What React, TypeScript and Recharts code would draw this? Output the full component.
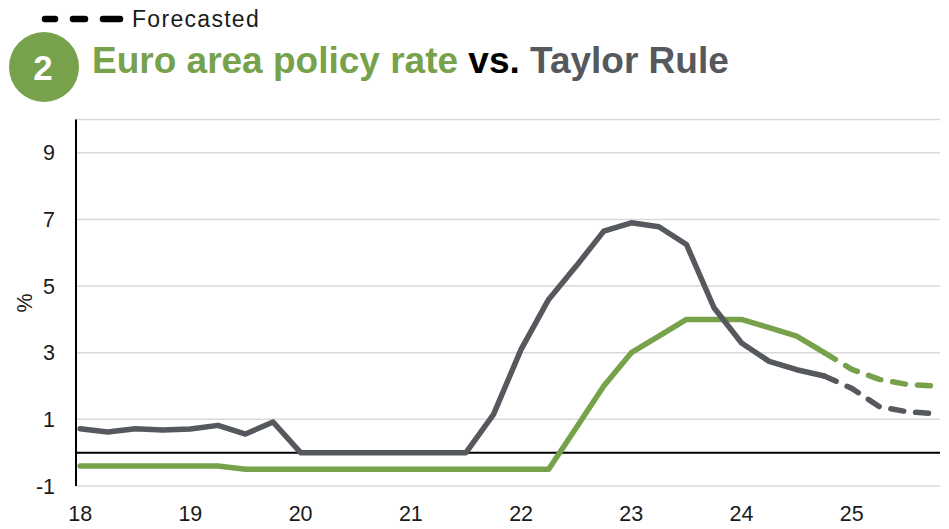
import { LineChart, Line, XAxis, YAxis, CartesianGrid, ReferenceLine } from 'recharts'

const GREEN = '#77A14A'
const GRAY = '#55585C'
const FONT = '"Liberation Sans", Arial, sans-serif'

// Quarterly observations, 2018 Q1 to 2025 Q4
const yearLabels = ['18', '19', '20', '21', '22', '23', '24', '25']

// Taylor Rule implied rate, %
const taylorRule = [
  0.72, 0.62, 0.72, 0.68, 0.71, 0.82, 0.56, 0.92,
  0, 0, 0, 0, 0, 0, 0, 1.15,
  3.1, 4.6, 5.6, 6.65, 6.9, 6.78, 6.25, 4.35,
  3.29, 2.74, 2.49, 2.3, 1.93, 1.38, 1.23, 1.17,
]

// ECB deposit facility rate, %
const policyRate = [
  -0.4, -0.4, -0.4, -0.4, -0.4, -0.4, -0.5, -0.5,
  -0.5, -0.5, -0.5, -0.5, -0.5, -0.5, -0.5, -0.5,
  -0.5, -0.5, 0.75, 2.0, 3.0, 3.5, 4.0, 4.0,
  4.0, 3.75, 3.5, 3.0, 2.5, 2.2, 2.05, 2.0,
]

// first quarter drawn as a forecast
const forecastStart = 27

const yTicks = [-1, 1, 3, 5, 7, 9]
const xTicks = yearLabels.map((_, k) => k * 4)

const rows = taylorRule.map((t, i) => ({
  i,
  taylor: i <= forecastStart ? t : null,
  taylorF: i >= forecastStart ? t : null,
  policy: i <= forecastStart ? policyRate[i] : null,
  policyF: i >= forecastStart ? policyRate[i] : null,
}))

export default function App() {
  return (
    <div style={{ position: 'absolute', left: 0, top: 0, width: 949, height: 529, background: '#fff', fontFamily: FONT }}>
      <LineChart width={949} height={529} data={rows} margin={{ top: 119.5, right: 9, bottom: 13, left: 16 }}>
        <CartesianGrid vertical={false} stroke="#D9D9D9" strokeWidth={1.5} />
        <XAxis
          type="number"
          dataKey="i"
          domain={[-0.15, 31.2]}
          ticks={xTicks}
          tickFormatter={(v: number) => yearLabels[v / 4]}
          axisLine={false}
          tickLine={false}
          height={30}
          tickMargin={14}
          allowDataOverflow
          tick={{ fontSize: 21.5, fill: '#1a1a1a', fontFamily: FONT }}
        />
        <YAxis
          domain={[-1, 10]}
          ticks={yTicks}
          interval={0}
          width={60}
          axisLine={{ stroke: '#000', strokeWidth: 2 }}
          tickLine={false}
          tickMargin={15}
          allowDataOverflow
          tick={{ fontSize: 21.5, fill: '#1a1a1a', fontFamily: FONT }}
        />
        <ReferenceLine y={0} stroke="#000" strokeWidth={2} />
        <Line dataKey="policy" stroke={GREEN} strokeWidth={5.5} dot={false} strokeLinecap="round" strokeLinejoin="round" isAnimationActive={false} />
        <Line dataKey="policyF" stroke={GREEN} strokeWidth={5.5} dot={false} strokeDasharray="13 12" strokeLinecap="round" strokeLinejoin="round" isAnimationActive={false} />
        <Line dataKey="taylor" stroke={GRAY} strokeWidth={5.5} dot={false} strokeLinecap="round" strokeLinejoin="round" isAnimationActive={false} />
        <Line dataKey="taylorF" stroke={GRAY} strokeWidth={5.5} dot={false} strokeDasharray="13 12" strokeLinecap="round" strokeLinejoin="round" isAnimationActive={false} />
      </LineChart>

      {/* legend, badge, title and y-axis unit */}
      <svg width={949} height={529} style={{ position: 'absolute', left: 0, top: 0, pointerEvents: 'none' }}>
        <g stroke="#000" strokeWidth={6.5} strokeLinecap="round">
          <line x1={45} y1={19} x2={55} y2={19} />
          <line x1={73} y1={19} x2={85} y2={19} />
          <line x1={103} y1={19} x2={120} y2={19} />
        </g>
        <text x={132} y={27} fontSize={23} letterSpacing={1.3} fill="#1a1a1a" fontFamily={FONT}>Forecasted</text>

        <circle cx={44} cy={67} r={35} fill={GREEN} />
        <text x={43} y={80} fontSize={35} fontWeight="bold" fill="#fff" textAnchor="middle" fontFamily={FONT}>2</text>

        <text x={92} y={73} fontSize={37} fontWeight="bold" fontFamily={FONT}>
          <tspan fill={GREEN}>Euro area policy rate</tspan>
          <tspan fill="#000"> vs. </tspan>
          <tspan fill={GRAY}>Taylor Rule</tspan>
        </text>

        <text x={0} y={0} transform="translate(32 303) rotate(-90)" textAnchor="middle" fontSize={21.5} fill="#1a1a1a" fontFamily={FONT}>%</text>
      </svg>
    </div>
  )
}
